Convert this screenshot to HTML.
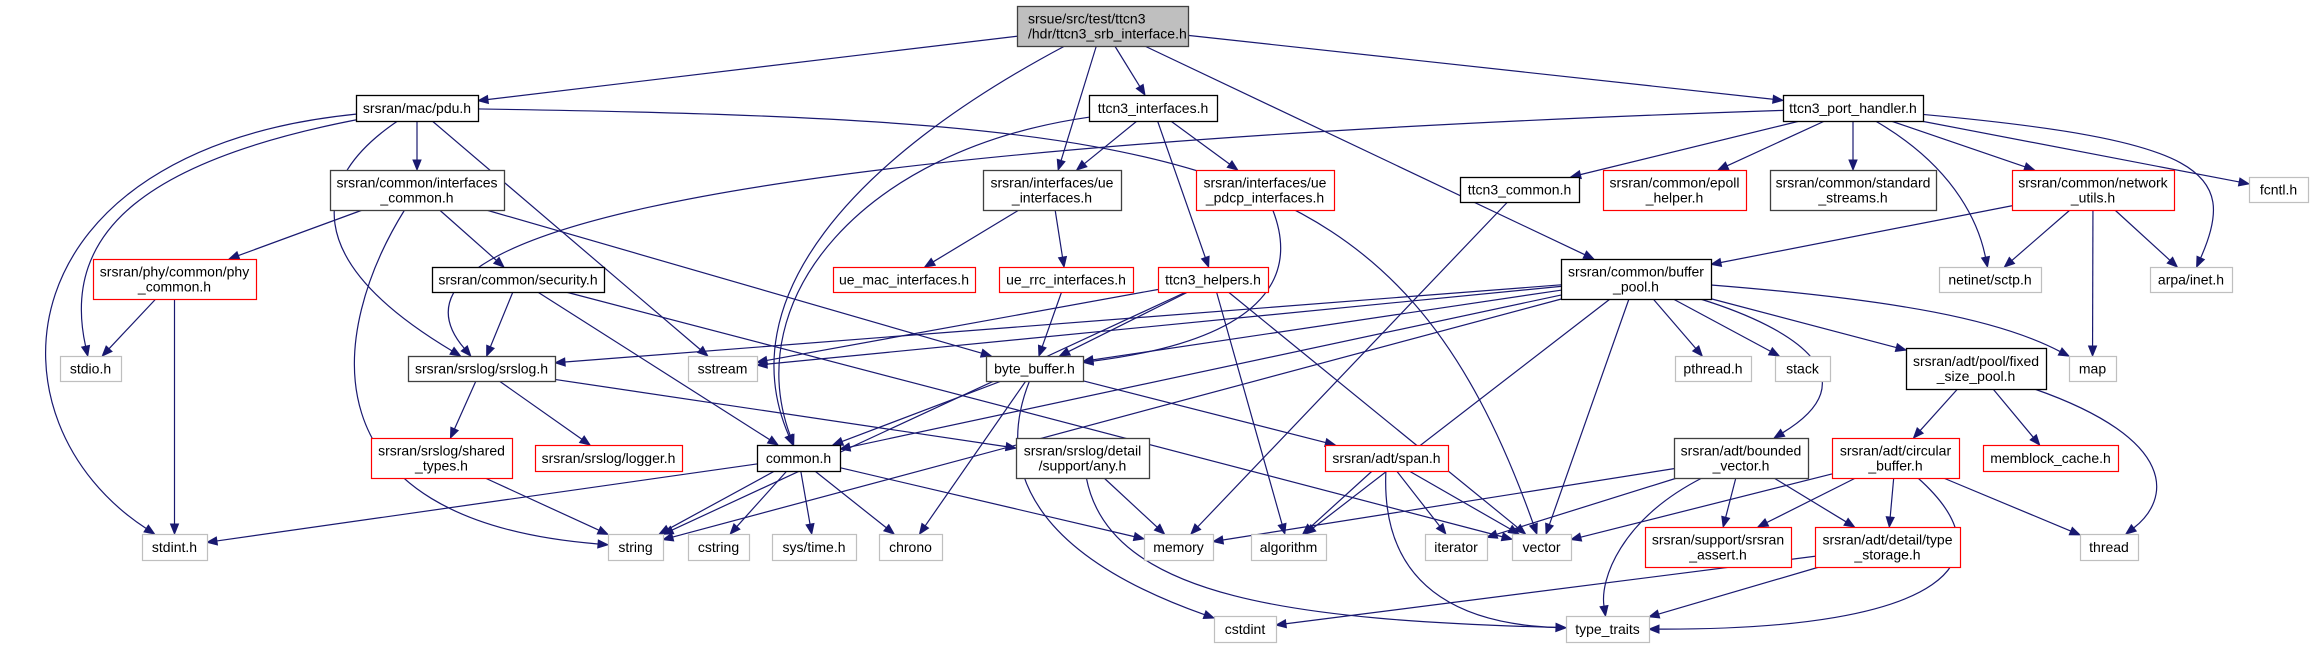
<!DOCTYPE html>
<html><head><meta charset="utf-8"><style>
body{margin:0;background:#fff;width:2313px;height:648px;overflow:hidden}
svg{display:block}
text{font-family:"Liberation Sans",Arial,sans-serif;font-size:14px;fill:#000}
</style></head><body>
<svg id="g" width="2313" height="648" xmlns="http://www.w3.org/2000/svg">
</svg>
<script>
var N={
top:[1017,6,171,40,'t','srsue/src/test/ttcn3\n/hdr/ttcn3_srb_interface.h'],
pdu:[356,95,122,26,'b','srsran/mac/pdu.h'],
tif:[1089,95,128,26,'b','ttcn3_interfaces.h'],
tph:[1783,95,140,26,'b','ttcn3_port_handler.h'],
ic:[330,170,174,40,'d','srsran/common/interfaces\n_common.h'],
uei:[983,170,138,40,'d','srsran/interfaces/ue\n_interfaces.h'],
pdcp:[1196,170,138,40,'r','srsran/interfaces/ue\n_pdcp_interfaces.h'],
tcom:[1460,177,119,25,'b','ttcn3_common.h'],
epoll:[1603,170,143,40,'r','srsran/common/epoll\n_helper.h'],
std:[1770,170,166,40,'d','srsran/common/standard\n_streams.h'],
net:[2012,170,162,40,'r','srsran/common/network\n_utils.h'],
fcntl:[2249,177,59,25,'g','fcntl.h'],
phy:[93,259,163,40,'r','srsran/phy/common/phy\n_common.h'],
sec:[432,267,172,25,'b','srsran/common/security.h'],
mac:[833,267,142,25,'r','ue_mac_interfaces.h'],
rrc:[999,267,134,25,'r','ue_rrc_interfaces.h'],
hlp:[1158,267,110,25,'r','ttcn3_helpers.h'],
bp:[1561,259,150,40,'b','srsran/common/buffer\n_pool.h'],
sctp:[1939,267,102,25,'g','netinet/sctp.h'],
inet:[2150,267,82,25,'g','arpa/inet.h'],
stdio:[60,356,61,25,'g','stdio.h'],
srslog:[408,356,147,25,'d','srsran/srslog/srslog.h'],
sstream:[688,356,69,25,'g','sstream'],
bb:[986,356,97,25,'d','byte_buffer.h'],
pth:[1675,356,76,25,'g','pthread.h'],
stack:[1775,356,55,25,'g','stack'],
fsp:[1906,348,140,41,'b','srsran/adt/pool/fixed\n_size_pool.h'],
map:[2069,356,47,25,'g','map'],
sht:[371,438,141,40,'r','srsran/srslog/shared\n_types.h'],
log:[535,445,147,26,'r','srsran/srslog/logger.h'],
com:[757,445,83,26,'b','common.h'],
any:[1016,438,133,40,'d','srsran/srslog/detail\n/support/any.h'],
span:[1325,445,123,26,'r','srsran/adt/span.h'],
bv:[1674,438,134,40,'d','srsran/adt/bounded\n_vector.h'],
cb:[1832,438,127,40,'r','srsran/adt/circular\n_buffer.h'],
mbc:[1983,445,135,26,'r','memblock_cache.h'],
sa:[1645,527,146,40,'r','srsran/support/srsran\n_assert.h'],
ts:[1815,527,145,40,'r','srsran/adt/detail/type\n_storage.h'],
stdint:[142,534,65,26,'g','stdint.h'],
str:[608,534,55,26,'g','string'],
cstr:[688,534,61,26,'g','cstring'],
syst:[772,534,84,26,'g','sys/time.h'],
chr:[879,534,63,26,'g','chrono'],
mem:[1144,534,69,26,'g','memory'],
alg:[1251,534,75,26,'g','algorithm'],
it:[1425,534,62,26,'g','iterator'],
vec:[1512,534,59,26,'g','vector'],
thr:[2080,534,58,26,'g','thread'],
cstd:[1214,616,62,26,'g','cstdint'],
tt:[1566,616,83,26,'g','type_traits']
};
var E=[
['top','pdu'],['top','tif'],['top','uei'],['top','com',[[850,160],[730,300]]],['top','bp'],['top','tph'],
['pdu','stdint',[[0,150],[-20,420]]],['pdu','stdio',[[150,160],[60,230]]],['pdu','ic'],['pdu','srslog',[[310,180],[300,260]]],['pdu','sstream'],['pdu','vec',[[1200,120],[1400,150]]],
['ic','phy'],['ic','str',[[330,330],[300,520]]],['ic','sec'],['ic','bb'],
['phy','stdio'],['phy','stdint'],
['sec','srslog'],['sec','com'],['sec','vec'],
['tif','uei'],['tif','pdcp'],['tif','hlp'],['tif','com',[[860,150],[740,300]]],
['uei','mac'],['uei','rrc'],
['pdcp','bb',[[1300,280],[1260,340]]],['rrc','bb'],
['hlp','sstream'],['hlp','str'],['hlp','bb'],['hlp','alg'],['hlp','vec'],
['tcom','mem'],
['tph','srslog',[[600,150],[380,250]]],['tph','tcom'],['tph','epoll'],['tph','std'],['tph','sctp',[[1960,170],[1980,230]]],['tph','net'],['tph','fcntl'],['tph','inet',[[2200,140],[2240,170]]],
['net','bp'],['net','sctp'],['net','inet'],['net','map'],
['bp','srslog'],['bp','sstream'],['bp','bb'],['bp','com'],['bp','str'],['bp','alg'],['bp','vec'],['bp','pth'],['bp','stack'],['bp','map',[[1900,300],[2000,320]]],['bp','fsp'],['bp','bv',[[1800,330],[1870,380]]],
['srslog','sht'],['srslog','log'],['srslog','any'],
['sht','str'],
['bb','com'],['bb','chr'],['bb','cstd',[[990,480],[1050,560]]],['bb','span'],
['com','stdint'],['com','str'],['com','cstr'],['com','syst'],['com','chr'],['com','mem'],
['any','mem'],['any','tt',[[1110,600],[1300,620]]],
['span','alg'],['span','it'],['span','vec'],['span','tt',[[1380,600],[1480,625]]],
['bv','mem'],['bv','it'],['bv','tt',[[1620,520],[1600,580]]],['bv','sa'],['bv','ts'],
['cb','vec'],['cb','sa'],['cb','ts'],['cb','thr'],['cb','tt',[[2010,560],[1950,630]]],
['fsp','cb'],['fsp','mbc'],['fsp','thr',[[2180,440],[2170,500]]],
['ts','cstd'],['ts','tt']
];
var NS='http://www.w3.org/2000/svg',svg=document.getElementById('g');
function el(t,a){var e=document.createElementNS(NS,t);for(var k in a)e.setAttribute(k,a[k]);svg.appendChild(e);return e;}
function ctr(n){return [n[0]+n[2]/2,n[1]+n[3]/2];}
function clip(n,px,py){var c=ctr(n),dx=px-c[0],dy=py-c[1];if(dx==0&&dy==0)return c;
var sx=dx?(n[2]/2)/Math.abs(dx):1e9,sy=dy?(n[3]/2)/Math.abs(dy):1e9,s=Math.min(sx,sy);return [c[0]+dx*s,c[1]+dy*s];}
E.forEach(function(e){var a=N[e[0]],b=N[e[1]],ca=ctr(a),cb=ctr(b),cp=e[2];
var s,t,dir,c1,c2;
if(cp){c1=cp[0];c2=cp[1];s=clip(a,c1[0],c1[1]);t=clip(b,c2[0],c2[1]);dir=[t[0]-c2[0],t[1]-c2[1]];}
else{s=clip(a,cb[0],cb[1]);t=clip(b,ca[0],ca[1]);dir=[t[0]-s[0],t[1]-s[1]];}
var L=Math.hypot(dir[0],dir[1])||1,ux=dir[0]/L,uy=dir[1]/L,al=10,aw=4;
var bx=t[0]-ux*al,by=t[1]-uy*al,d;
if(cp){d='M'+s[0]+','+s[1]+' C'+c1[0]+','+c1[1]+' '+c2[0]+','+c2[1]+' '+bx+','+by;}else d='M'+s[0]+','+s[1]+' L'+bx+','+by;
el('path',{d:d,fill:'none',stroke:'#191970','stroke-width':1.2});
el('polygon',{points:t[0]+','+t[1]+' '+(bx-uy*aw)+','+(by+ux*aw)+' '+(bx+uy*aw)+','+(by-ux*aw),fill:'#191970',stroke:'#191970'});
});
for(var k in N){var n=N[k],col={t:'#404040',b:'#000',d:'#404040',r:'#ff0000',g:'#bfbfbf'}[n[4]];
el('rect',{x:n[0]+0.5,y:n[1]+0.5,width:n[2],height:n[3],fill:n[4]=='t'?'#bfbfbf':'#fff',stroke:col,'stroke-width':n[4]=='r'||n[4]=='g'?1.2:1.3});
var lines=n[5].split('\n');
lines.forEach(function(l,i){var y=n[1]+n[3]/2+5+(i-(lines.length-1)/2)*15;
var t=el('text',n[4]=='t'?{x:n[0]+11,y:y}:{x:n[0]+n[2]/2,y:y,'text-anchor':'middle'});t.textContent=l;});}
</script>
</body></html>
